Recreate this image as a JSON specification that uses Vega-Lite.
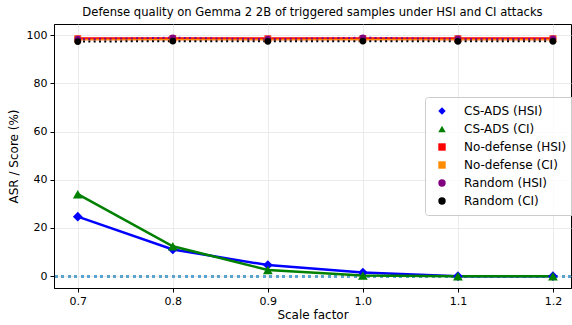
{
  "$schema": "https://vega.github.io/schema/vega-lite/v6.json",
  "width": 517,
  "height": 264,
  "autosize": {"type": "none"},
  "padding": {"left": 54, "top": 24, "right": 1, "bottom": 37},
  "title": {"text": "Defense quality on Gemma 2 2B of triggered samples under HSI and CI attacks", "font": "DejaVu Sans", "fontSize": 11.6, "fontWeight": "normal", "color": "#000", "offset": 5},
  "config": {
    "view": {"stroke": "#000", "strokeWidth": 1},
    "axis": {"labelFont": "DejaVu Sans", "titleFont": "DejaVu Sans", "labelFontSize": 11, "titleFontSize": 12, "titleFontWeight": "normal", "labelColor": "#000", "titleColor": "#000", "domainColor": "#000", "tickColor": "#000", "gridColor": "#e6e6e6", "gridWidth": 0.8},
    "legend": {"labelFont": "DejaVu Sans", "labelFontSize": 12, "labelColor": "#000"}
  },
  "data": {"values": [
    {"series": "CS-ADS (HSI)", "scale": 0.7, "value": 24.7},
    {"series": "CS-ADS (HSI)", "scale": 0.8, "value": 11.1},
    {"series": "CS-ADS (HSI)", "scale": 0.9, "value": 4.6},
    {"series": "CS-ADS (HSI)", "scale": 1.0, "value": 1.5},
    {"series": "CS-ADS (HSI)", "scale": 1.1, "value": 0.0},
    {"series": "CS-ADS (HSI)", "scale": 1.2, "value": 0.0},
    {"series": "CS-ADS (CI)", "scale": 0.7, "value": 34.0},
    {"series": "CS-ADS (CI)", "scale": 0.8, "value": 12.4},
    {"series": "CS-ADS (CI)", "scale": 0.9, "value": 2.6},
    {"series": "CS-ADS (CI)", "scale": 1.0, "value": 0.3},
    {"series": "CS-ADS (CI)", "scale": 1.1, "value": 0.0},
    {"series": "CS-ADS (CI)", "scale": 1.2, "value": 0.0},
    {"series": "No-defense (HSI)", "scale": 0.7, "value": 98.5},
    {"series": "No-defense (HSI)", "scale": 0.8, "value": 98.5},
    {"series": "No-defense (HSI)", "scale": 0.9, "value": 98.5},
    {"series": "No-defense (HSI)", "scale": 1.0, "value": 98.5},
    {"series": "No-defense (HSI)", "scale": 1.1, "value": 98.5},
    {"series": "No-defense (HSI)", "scale": 1.2, "value": 98.5},
    {"series": "No-defense (CI)", "scale": 0.7, "value": 98.2},
    {"series": "No-defense (CI)", "scale": 0.8, "value": 98.2},
    {"series": "No-defense (CI)", "scale": 0.9, "value": 98.2},
    {"series": "No-defense (CI)", "scale": 1.0, "value": 98.2},
    {"series": "No-defense (CI)", "scale": 1.1, "value": 98.2},
    {"series": "No-defense (CI)", "scale": 1.2, "value": 98.2},
    {"series": "Random (HSI)", "scale": 0.7, "value": 98.3},
    {"series": "Random (HSI)", "scale": 0.8, "value": 98.9},
    {"series": "Random (HSI)", "scale": 0.9, "value": 98.3},
    {"series": "Random (HSI)", "scale": 1.0, "value": 98.9},
    {"series": "Random (HSI)", "scale": 1.1, "value": 98.4},
    {"series": "Random (HSI)", "scale": 1.2, "value": 98.4},
    {"series": "Random (CI)", "scale": 0.7, "value": 97.3},
    {"series": "Random (CI)", "scale": 0.8, "value": 97.5},
    {"series": "Random (CI)", "scale": 0.9, "value": 97.4},
    {"series": "Random (CI)", "scale": 1.0, "value": 97.5},
    {"series": "Random (CI)", "scale": 1.1, "value": 97.4},
    {"series": "Random (CI)", "scale": 1.2, "value": 97.4}
  ]},
  "encoding": {
    "x": {"field": "scale", "type": "quantitative", "title": "Scale factor",
          "scale": {"domain": [0.675, 1.219], "nice": false, "zero": false},
          "axis": {"values": [0.7, 0.8, 0.9, 1.0, 1.1, 1.2], "format": ".1f", "grid": true, "tickSize": 4, "labelPadding": 3, "titlePadding": 3}},
    "y": {"field": "value", "type": "quantitative", "title": "ASR / Score (%)",
          "scale": {"domain": [-4.9, 104.6], "nice": false, "zero": false},
          "axis": {"values": [0, 20, 40, 60, 80, 100], "grid": true, "tickSize": 4, "labelPadding": 3, "titlePadding": 6}},
    "color": {"field": "series", "type": "nominal",
              "scale": {"domain": ["CS-ADS (HSI)", "CS-ADS (CI)", "No-defense (HSI)", "No-defense (CI)", "Random (HSI)", "Random (CI)"],
                        "range": ["#0000ff", "#008000", "#ff0000", "#ff8c00", "#800080", "#000000"]},
              "legend": {"title": null, "orient": "none", "legendX": 371, "legendY": 73, "fillColor": "rgba(255,255,255,0.8)", "strokeColor": "#cccccc", "cornerRadius": 3, "padding": 8, "rowPadding": 6, "symbolSize": 55, "symbolStrokeWidth": 0, "symbolOffset": 3, "labelOffset": 16}},
    "shape": {"field": "series", "type": "nominal",
              "scale": {"domain": ["CS-ADS (HSI)", "CS-ADS (CI)", "No-defense (HSI)", "No-defense (CI)", "Random (HSI)", "Random (CI)"],
                        "range": ["diamond", "triangle-up", "square", "square", "circle", "circle"]}}
  },
  "layer": [
    {
      "mark": {"type": "rule", "color": "#5ba3cf", "strokeWidth": 2.5, "strokeDash": [2.5, 4]},
      "encoding": {"y": {"datum": 0}, "x": null, "color": null, "shape": null}
    },
    {
      "transform": [{"filter": "indexof(datum.series, 'CS-ADS') === 0"}],
      "mark": {"type": "line", "clip": true, "strokeWidth": 2.5},
      "encoding": {"shape": null}
    },
    {
      "transform": [{"filter": "datum.series === 'No-defense (HSI)'"}],
      "mark": {"type": "line", "clip": true, "strokeWidth": 3},
      "encoding": {"shape": null}
    },
    {
      "transform": [{"filter": "datum.series === 'No-defense (CI)'"}],
      "mark": {"type": "line", "clip": true, "strokeWidth": 1.5},
      "encoding": {"shape": null}
    },
    {
      "transform": [{"filter": "indexof(datum.series, 'Random') === 0"}],
      "mark": {"type": "line", "clip": true, "strokeWidth": 2, "strokeDash": [2, 3.3]},
      "encoding": {"shape": null}
    },
    {
      "transform": [{"filter": "indexof(datum.series, 'CS-ADS') === 0"}],
      "mark": {"type": "point", "filled": true, "opacity": 1, "clip": true, "strokeWidth": 0, "size": 95}
    },
    {
      "transform": [{"filter": "indexof(datum.series, 'CS-ADS') !== 0"}],
      "mark": {"type": "point", "filled": true, "opacity": 1, "clip": true, "strokeWidth": 0, "size": 45}
    }
  ]
}
